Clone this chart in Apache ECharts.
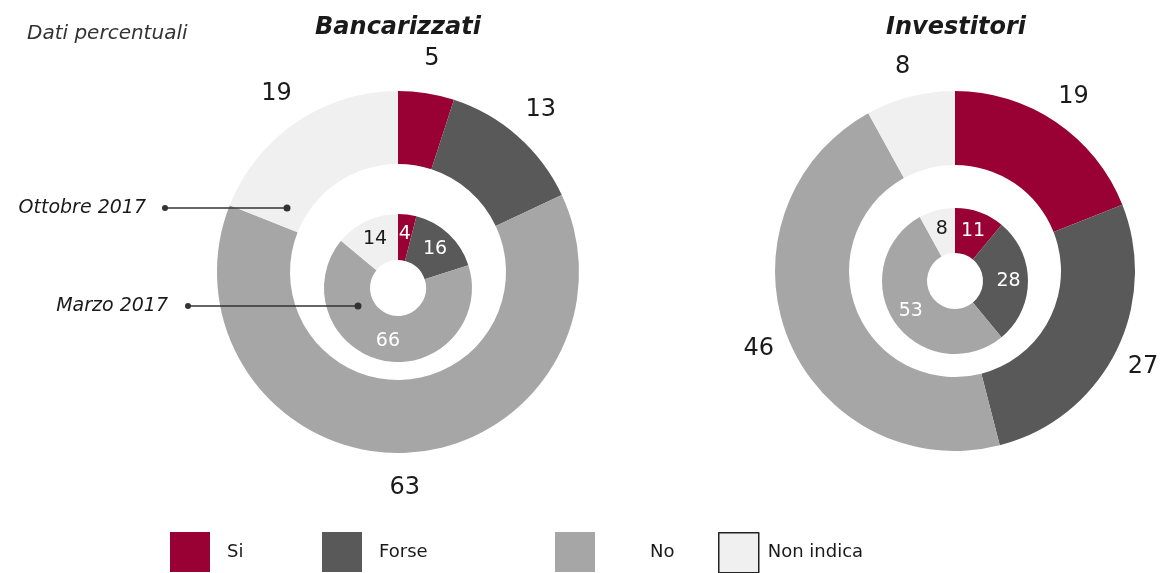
<!DOCTYPE html>
<html>
<head>
<meta charset="utf-8">
<script src="https://cdn.jsdelivr.net/npm/echarts@6/dist/echarts.min.js"></script>
<style>
  html, body { margin: 0; padding: 0; background: #fff; }
  #chart { width: 1161px; height: 573px; }
</style>
</head>
<body>
<div id="chart"></div>
<script>
const categories = ["Si", "Forse", "No", "Non indica"];
const colors = ["#990033", "#595959", "#a6a6a6", "#f0f0f0"];
// Bancarizzati
const bancOttobre = [5, 13, 63, 19];
const bancMarzo = [4, 16, 66, 14];
// Investitori
const invOttobre = [19, 27, 46, 8];
const invMarzo = [11, 28, 53, 8];

const font = "DejaVu Sans";

const toData = (vals) =>
  vals.map((v, i) => ({ name: categories[i], value: v, itemStyle: { color: colors[i] } }));

// anello esterno (Ottobre 2017)
const ring = (vals, center, radius) => ({
  type: "pie",
  center: center,
  radius: radius,
  startAngle: 90,
  silent: true,
  label: { show: false },
  labelLine: { show: false },
  data: toData(vals),
});

// etichette esterne su anello trasparente
const outerLabels = (vals, center, radius) => ({
  type: "pie",
  center: center,
  radius: radius,
  startAngle: 90,
  silent: true,
  itemStyle: { color: "transparent" },
  label: {
    show: true,
    position: "inside",
    color: "#1a1a1a",
    fontFamily: font,
    fontSize: 24,
    formatter: "{c}",
  },
  labelLine: { show: false },
  data: vals.map((v, i) => ({ name: categories[i], value: v, itemStyle: { color: "transparent" } })),
});

// anello interno (Marzo 2017)
const innerRing = (vals, center, radius) => ({
  type: "pie",
  center: center,
  radius: radius,
  startAngle: 90,
  silent: true,
  label: {
    show: true,
    position: "inside",
    fontFamily: font,
    fontSize: 19,
    formatter: "{c}",
    color: "#fff",
  },
  labelLine: { show: false },
  data: vals.map((v, i) => ({
    name: categories[i],
    value: v,
    itemStyle: { color: colors[i] },
    label: { color: i === 3 ? "#1a1a1a" : "#fff" },
  })),
});

const legendLeft = [170, 322, 555, 718];
const legendTextPad = [12, 12, 50, 4];

const chart = echarts.init(document.getElementById("chart"));
chart.setOption({
  backgroundColor: "#fff",
  animation: false,
  title: [
    {
      text: "Bancarizzati",
      left: 393,
      top: 11,
      textAlign: "center",
      textStyle: { fontFamily: font, fontSize: 24, fontStyle: "italic", fontWeight: "bold", color: "#1a1a1a" },
    },
    {
      text: "Investitori",
      left: 951,
      top: 11,
      textAlign: "center",
      textStyle: { fontFamily: font, fontSize: 24, fontStyle: "italic", fontWeight: "bold", color: "#1a1a1a" },
    },
    {
      text: "Dati percentuali",
      left: 22,
      top: 19,
      textStyle: { fontFamily: font, fontSize: 20, fontStyle: "italic", fontWeight: "normal", color: "#333" },
    },
  ],
  legend: categories.map((c, i) => ({
    data: [
      {
        name: c,
        itemStyle: {
          color: colors[i],
          borderColor: i === 3 ? "#222" : colors[i],
          borderWidth: i === 3 ? 1.5 : 0,
        },
      },
    ],
    left: legendLeft[i],
    top: 532,
    padding: 0,
    icon: "rect",
    itemWidth: 40,
    itemHeight: 40,
    selectedMode: false,
    textStyle: {
      fontFamily: font,
      fontSize: 18,
      color: "#1a1a1a",
      padding: [0, 0, 0, legendTextPad[i]],
    },
  })),
  graphic: [
    {
      type: "text",
      x: 146,
      y: 208,
      z: 100,
      style: { text: "Ottobre 2017", font: "italic 19px " + font, fill: "#1a1a1a", align: "right", verticalAlign: "middle" },
    },
    { type: "line", z: 100, shape: { x1: 165, y1: 208, x2: 287, y2: 208 }, style: { stroke: "#333", lineWidth: 1.5 } },
    { type: "circle", z: 100, shape: { cx: 165, cy: 208, r: 3 }, style: { fill: "#333" } },
    { type: "circle", z: 101, shape: { cx: 287, cy: 208, r: 3.5 }, style: { fill: "#333" } },
    {
      type: "text",
      x: 168,
      y: 306,
      z: 100,
      style: { text: "Marzo 2017", font: "italic 19px " + font, fill: "#1a1a1a", align: "right", verticalAlign: "middle" },
    },
    { type: "line", z: 100, shape: { x1: 188, y1: 306, x2: 358, y2: 306 }, style: { stroke: "#333", lineWidth: 1.5 } },
    { type: "circle", z: 100, shape: { cx: 188, cy: 306, r: 3 }, style: { fill: "#333" } },
    { type: "circle", z: 101, shape: { cx: 358, cy: 306, r: 3.5 }, style: { fill: "#333" } },
  ],
  series: [
    ring(bancOttobre, [398, 272], [108, 181]),
    innerRing(bancMarzo, [398, 288], [28, 74]),
    ring(invOttobre, [955, 271], [106, 180]),
    innerRing(invMarzo, [955, 281], [28, 73]),
    outerLabels(bancOttobre, [398, 272], [197, 229]),
    outerLabels(invOttobre, [955, 271], [192, 224]),
  ],
});
</script>
</body>
</html>
